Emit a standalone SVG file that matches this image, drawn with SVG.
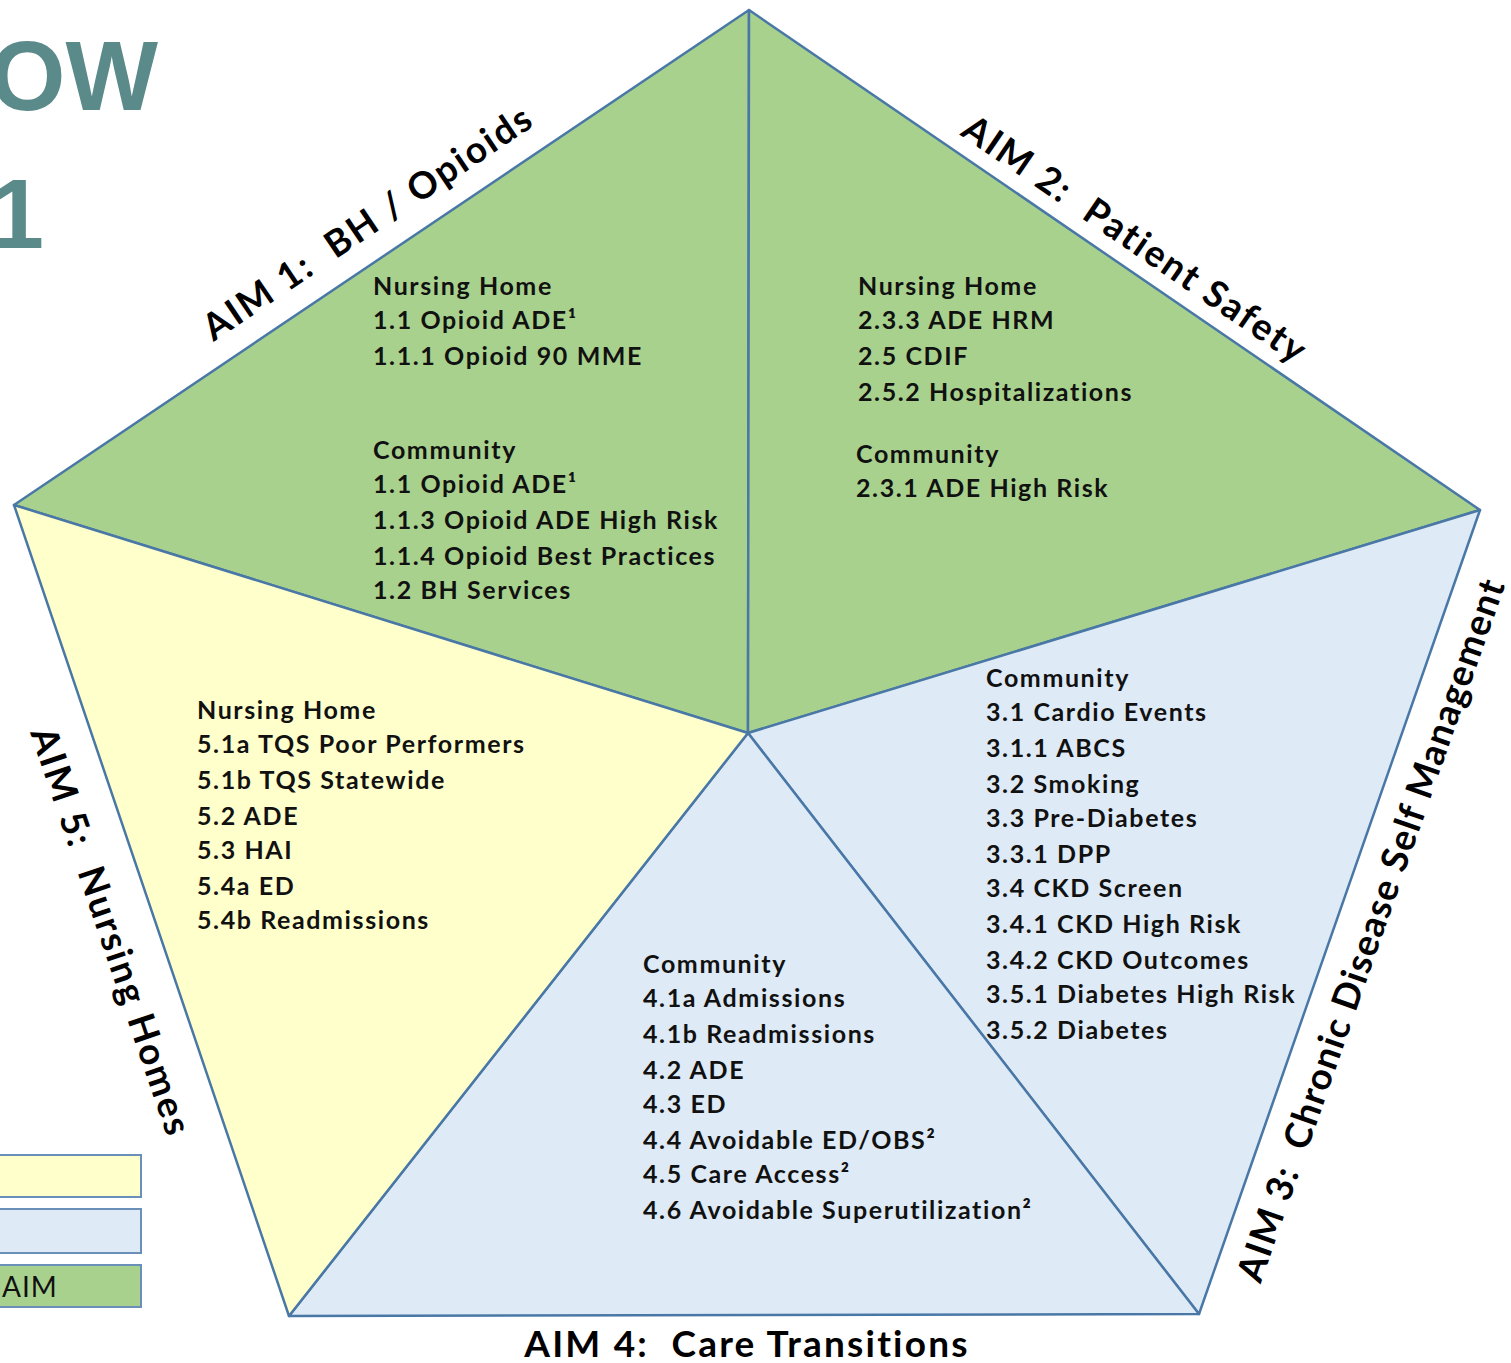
<svg xmlns="http://www.w3.org/2000/svg" width="1511" height="1363" viewBox="0 0 1511 1363">
<style>
.seg{stroke:#4A78A6;stroke-width:2.5;stroke-linejoin:round}
.g{fill:#A9D18E}.y{fill:#FFFFCC}.b{fill:#DEEAF6}
.t{font-family:Lato,"Open Sans",sans-serif;font-weight:700;font-size:25px;letter-spacing:1.6px;fill:#111}
.lab{font-family:Lato,"Open Sans",sans-serif;font-weight:700;font-size:37px;letter-spacing:2.2px;fill:#000;white-space:pre}
.title{font-family:"Liberation Sans",Arial,sans-serif;font-weight:700;font-size:98px;fill:#5B8A8A}
.leg{stroke:#6A8FB8;stroke-width:2}
</style>
<rect width="1511" height="1363" fill="#fff"/>
<g id="title">
<text class="title" x="158" y="110" text-anchor="end">OW</text>
<text class="title" x="44" y="248" text-anchor="end">1</text>
</g>
<g id="legend">
<rect class="leg y" x="-5" y="1155" width="146" height="42"/>
<rect class="leg b" x="-5" y="1209" width="146" height="44"/>
<rect class="leg g" x="-5" y="1265" width="146" height="42"/>
<text x="2" y="1297" style="font-family:Lato,sans-serif;font-size:28px;letter-spacing:1px;fill:#111">AIM</text>
</g>
<g id="aim1">
<polygon class="seg g" points="748,733 14,505 749,10"/>
<text class="lab" transform="translate(375,233) rotate(-34)" text-anchor="middle">AIM 1:  BH / Opioids</text>
<text class="t"><tspan x="373" y="295">Nursing Home</tspan><tspan x="373" y="329">1.1 Opioid ADE¹</tspan><tspan x="373" y="365">1.1.1 Opioid 90 MME</tspan><tspan x="373" y="459">Community</tspan><tspan x="373" y="493">1.1 Opioid ADE¹</tspan><tspan x="373" y="529">1.1.3 Opioid ADE High Risk</tspan><tspan x="373" y="565">1.1.4 Opioid Best Practices</tspan><tspan x="373" y="599">1.2 BH Services</tspan></text>
</g>
<g id="aim2">
<polygon class="seg g" points="748,733 749,10 1480,510"/>
<text class="lab" transform="translate(1128,250) rotate(34.4)" text-anchor="middle">AIM 2:  Patient Safety</text>
<text class="t"><tspan x="858" y="295">Nursing Home</tspan><tspan x="858" y="329">2.3.3 ADE HRM</tspan><tspan x="858" y="365">2.5 CDIF</tspan><tspan x="858" y="401">2.5.2 Hospitalizations</tspan><tspan x="856" y="463">Community</tspan><tspan x="856" y="497">2.3.1 ADE High Risk</tspan></text>
</g>
<g id="aim3">
<polygon class="seg b" points="748,733 1480,510 1199,1314"/>
<text class="lab" transform="translate(1383,934) rotate(-70.7)" text-anchor="middle" style="letter-spacing:1.3px">AIM 3:  Chronic Disease Self Management</text>
<text class="t"><tspan x="986" y="687">Community</tspan><tspan x="986" y="721">3.1 Cardio Events</tspan><tspan x="986" y="757">3.1.1 ABCS</tspan><tspan x="986" y="793">3.2 Smoking</tspan><tspan x="986" y="827">3.3 Pre-Diabetes</tspan><tspan x="986" y="863">3.3.1 DPP</tspan><tspan x="986" y="897">3.4 CKD Screen</tspan><tspan x="986" y="933">3.4.1 CKD High Risk</tspan><tspan x="986" y="969">3.4.2 CKD Outcomes</tspan><tspan x="986" y="1003">3.5.1 Diabetes High Risk</tspan><tspan x="986" y="1039">3.5.2 Diabetes</tspan></text>
</g>
<g id="aim4">
<polygon class="seg b" points="748,733 1199,1314 289,1316"/>
<text class="lab" x="747" y="1357" text-anchor="middle">AIM 4:  Care Transitions</text>
<text class="t"><tspan x="643" y="973">Community</tspan><tspan x="643" y="1007">4.1a Admissions</tspan><tspan x="643" y="1043">4.1b Readmissions</tspan><tspan x="643" y="1079">4.2 ADE</tspan><tspan x="643" y="1113">4.3 ED</tspan><tspan x="643" y="1149">4.4 Avoidable ED/OBS²</tspan><tspan x="643" y="1183">4.5 Care Access²</tspan><tspan x="643" y="1219">4.6 Avoidable Superutilization²</tspan></text>
</g>
<g id="aim5">
<polygon class="seg y" points="748,733 289,1316 14,505"/>
<text class="lab" transform="translate(99,936) rotate(71.3)" text-anchor="middle">AIM 5:  Nursing Homes</text>
<text class="t"><tspan x="197" y="719">Nursing Home</tspan><tspan x="197" y="753">5.1a TQS Poor Performers</tspan><tspan x="197" y="789">5.1b TQS Statewide</tspan><tspan x="197" y="825">5.2 ADE</tspan><tspan x="197" y="859">5.3 HAI</tspan><tspan x="197" y="895">5.4a ED</tspan><tspan x="197" y="929">5.4b Readmissions</tspan></text>
</g>
<g id="connectors"></g>
</svg>
